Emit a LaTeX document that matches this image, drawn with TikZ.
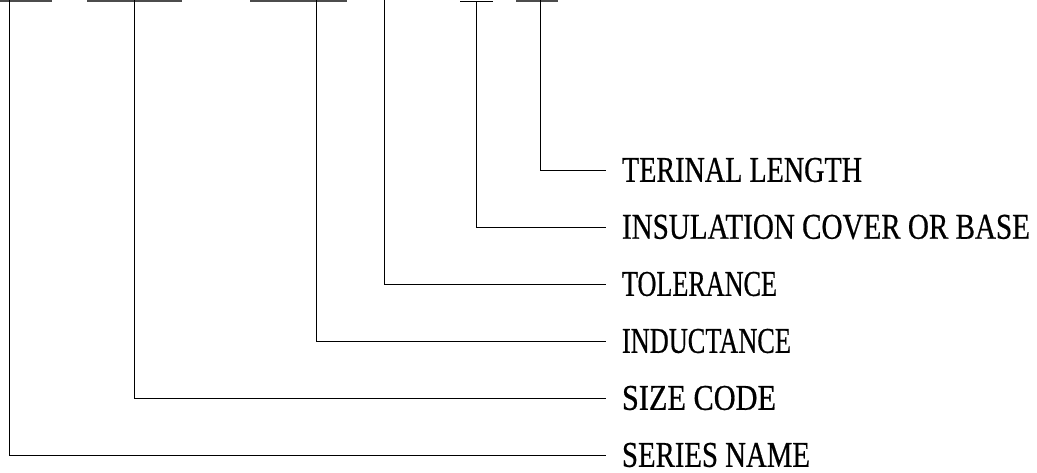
\documentclass[tikz,border=0pt]{standalone}
\usepackage{fontspec}
\setmainfont{Liberation Serif}
\newfontfamily\lblfont[FakeBold=0.6]{Liberation Serif}
\usepackage{graphicx}
\begin{document}
\begin{tikzpicture}[x=1pt,y=-1pt,
  conn/.style={draw=black, line width=1pt},
  topbar/.style={draw=black!70, line width=2pt},
  lbl/.style={anchor=west, inner sep=0pt, outer sep=0pt, font=\lblfont}]
\useasboundingbox (0,0) rectangle (1037,472);
% top bars
\coordinate (b1a) at (0,0.8);   \coordinate (b1b) at (52,0.8);
\coordinate (b2a) at (87,0.8);  \coordinate (b2b) at (182,0.8);
\coordinate (b3a) at (250,0.8); \coordinate (b3b) at (347,0.8);
\coordinate (b5a) at (460,1.5); \coordinate (b5b) at (493,1.5);
\coordinate (b6a) at (516,0.8); \coordinate (b6b) at (558,0.8);
\draw[topbar] (b1a) -- (b1b);
\draw[topbar] (b2a) -- (b2b);
\draw[topbar] (b3a) -- (b3b);
\draw[conn] (b5a) -- (b5b);
\draw[topbar] (b6a) -- (b6b);
% labels
\node[lbl] (t1) at (622,170) {\resizebox{240pt}{24pt}{TERINAL LENGTH}};
\node[lbl] (t2) at (622,227) {\resizebox{408pt}{24pt}{INSULATION COVER OR BASE}};
\node[lbl] (t3) at (622,284) {\resizebox{155pt}{24pt}{TOLERANCE}};
\node[lbl] (t4) at (622,341) {\resizebox{169pt}{24pt}{INDUCTANCE}};
\node[lbl] (t5) at (622,398) {\resizebox{154pt}{24pt}{SIZE CODE}};
\node[lbl] (t6) at (622,455) {\resizebox{188pt}{24pt}{SERIES NAME}};
% top ends of the leaders
\coordinate (v1) at (540.5,0);
\coordinate (v2) at (476.5,1.5);
\coordinate (v3) at (384,0);
\coordinate (v4) at (316,0);
\coordinate (v5) at (134.5,0);
\coordinate (v6) at (9.3,0);
% leaders
\draw[conn] (v1) |- ([xshift=-16pt]t1.west);
\draw[conn] (v2) |- ([xshift=-16pt]t2.west);
\draw[conn] (v3) |- ([xshift=-16pt]t3.west);
\draw[conn] (v4) |- ([xshift=-16pt]t4.west);
\draw[conn] (v5) |- ([xshift=-16pt]t5.west);
\draw[conn] (v6) |- ([xshift=-16pt]t6.west);
\end{tikzpicture}
\end{document}
